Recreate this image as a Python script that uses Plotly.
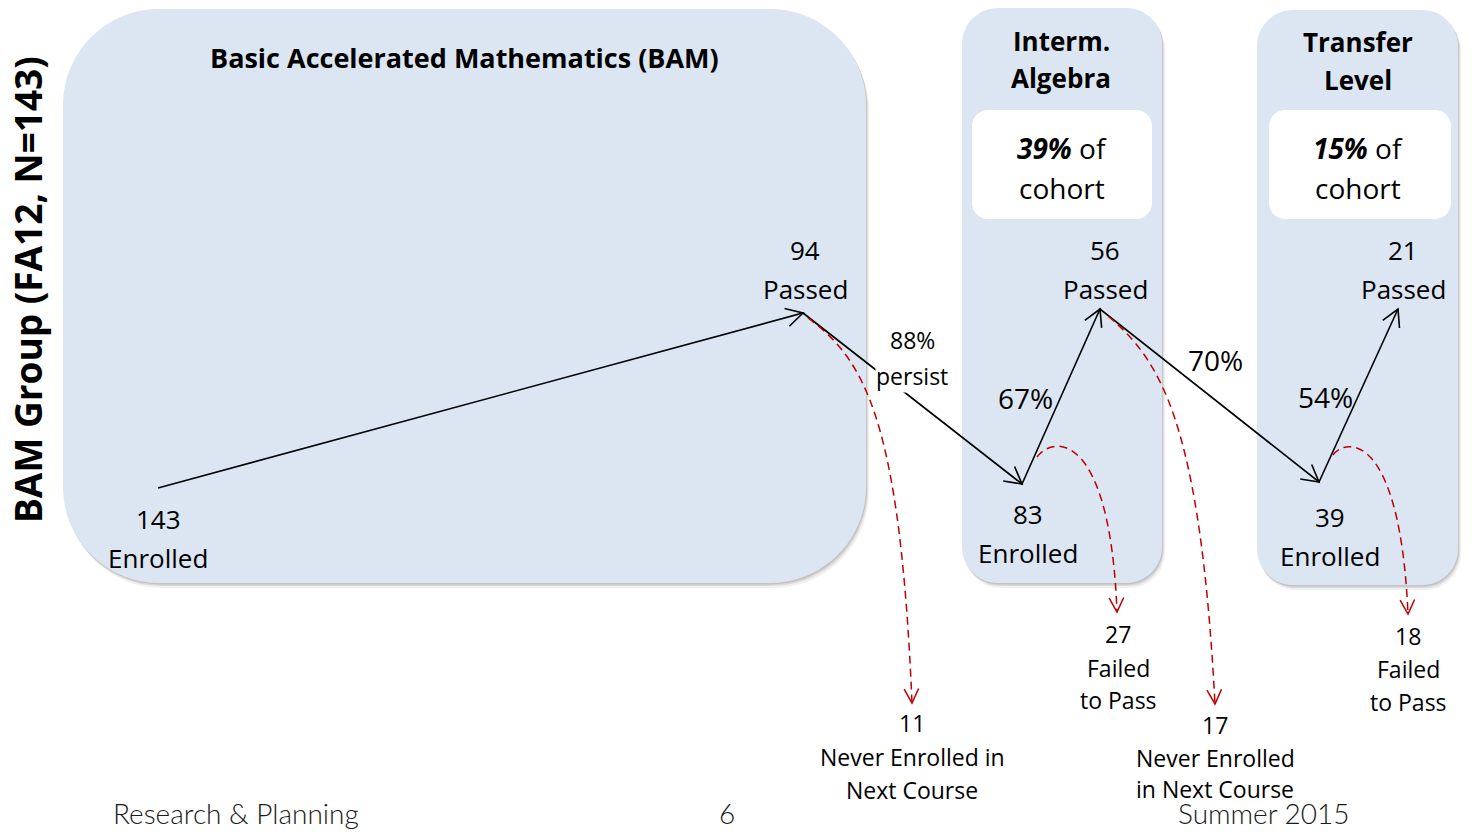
import math
import plotly.graph_objects as go

# ---------------- data ----------------
stage_titles = ["Basic Accelerated Mathematics (BAM)", "Interm.|Algebra", "Transfer|Level"]
enrolled = [143, 83, 39]
passed = [94, 56, 21]
persist_rates = ["88%", "70%"]
pass_rates = ["67%", "54%"]
cohort_share = ["39%", "15%"]
never_enrolled = [11, 17]
never_text = [["Never Enrolled in", "Next Course"], ["Never Enrolled", "in Next Course"]]
failed = [27, 18]
failed_text = ["Failed", "to Pass"]
side_title = "BAM Group (FA12, N=143)"
footer_text = ["Research & Planning", "6", "Summer 2015"]

# ---------------- layout (pixel space of the slide) ----------------
W, H = 1476, 832
FONT = "Open Sans"
BLUE = "#DCE6F2"
RED = "#C00000"

BOXES = [(63, 9, 866, 583, 96), (962, 8, 1162, 583, 36), (1257, 10, 1458, 585, 36)]
INNER = [(972, 110, 1152, 219, 16), (1269, 110, 1451, 219, 16)]
ENR_PT = [(158, 488), (1022, 484), (1319, 482)]
PAS_PT = [(803, 313), (1100, 309), (1398, 309)]
ENR_LBL = [(158, 519, 558), (1028, 514, 553), (1330, 517, 556)]
PAS_LBL = [(805, 250, 289), (1105, 250, 289), (1403, 250, 289)]
TITLE_POS = [(464, [57]), (1061, [41, 78]), (1358, [42, 80])]
COHORT_POS = [(1062, 148, 188), (1358, 148, 188)]
PERSIST_POS = [(912, 340, 376), (1215, 360, None)]
PASSRATE_POS = [(1025, 398), (1325, 397)]
NEVER_CURVES = [((808, 318), (865, 360), (900, 420), (912, 703)),
                ((1108, 316), (1160, 360), (1200, 420), (1215, 704))]
FAIL_CURVES = [((1037, 457), (1053, 435), (1110, 430), (1117, 612)),
               ((1333, 455), (1346, 437), (1400, 432), (1408, 614))]
NEVER_LBL = [(912, [723, 757, 790]), (1215, [725, 758, 789])]
FAIL_LBL = [(1118, [634, 668, 700]), (1408, [636, 669, 702])]
FOOTER_POS = [(236, 813), (727, 813), (1264, 813)]

fig = go.Figure()
shapes, annotations = [], []


def rrect(x0, y0, x1, y1, r):
    k = 0.5523 * r
    return (f"M {x0 + r},{y0} L {x1 - r},{y0} C {x1 - r + k},{y0} {x1},{y0 + r - k} {x1},{y0 + r} "
            f"L {x1},{y1 - r} C {x1},{y1 - r + k} {x1 - r + k},{y1} {x1 - r},{y1} "
            f"L {x0 + r},{y1} C {x0 + r - k},{y1} {x0},{y1 - r + k} {x0},{y1 - r} "
            f"L {x0},{y0 + r} C {x0},{y0 + r - k} {x0 + r - k},{y0} {x0 + r},{y0} Z")


def vhead(tip, frm, L=19, ang=29):
    dx, dy = tip[0] - frm[0], tip[1] - frm[1]
    n = math.hypot(dx, dy)
    bx, by = -dx / n, -dy / n
    pts = []
    for s in (1, -1):
        a = math.radians(ang * s)
        rx = bx * math.cos(a) - by * math.sin(a)
        ry = bx * math.sin(a) + by * math.cos(a)
        pts.append((tip[0] + L * rx, tip[1] + L * ry))
    return f"M {pts[0][0]},{pts[0][1]} L {tip[0]},{tip[1]} L {pts[1][0]},{pts[1][1]}"


def text(x, y, s, size, bold=False, color="black", bg=None, family=FONT, angle=0, weight=None):
    font = dict(family=family, size=size, color=color)
    if weight:
        font["weight"] = weight
    annotations.append(dict(
        x=x, y=y, xref="x", yref="y", text=f"<b>{s}</b>" if bold else s,
        showarrow=False, xanchor="center", yanchor="middle", textangle=angle,
        font=font, bgcolor=bg if bg else "rgba(0,0,0,0)", borderpad=0))


# shadows + boxes
for (x0, y0, x1, y1, r) in BOXES:
    for off, a in ((5, 0.06), (3, 0.09), (1.5, 0.10)):
        shapes.append(dict(type="path", path=rrect(x0 + off * 0.6, y0 + off, x1 + off * 0.6, y1 + off, r),
                           fillcolor=f"rgba(0,0,0,{a})", line=dict(width=0), layer="below"))
for (x0, y0, x1, y1, r) in BOXES:
    shapes.append(dict(type="path", path=rrect(x0, y0, x1, y1, r), fillcolor=BLUE,
                       line=dict(width=0), layer="below"))
for (x0, y0, x1, y1, r) in INNER:
    shapes.append(dict(type="path", path=rrect(x0, y0, x1, y1, r), fillcolor="white",
                       line=dict(width=0), layer="below"))

# main black flow: enrolled -> passed -> enrolled ...
flow = []
for e, p in zip(ENR_PT, PAS_PT):
    flow += [e, p]
fx = [pt[0] for pt in flow]
fy = [pt[1] for pt in flow]
fig.add_trace(go.Scatter(x=fx, y=fy, mode="lines", line=dict(color="black", width=1.6),
                         hoverinfo="skip", showlegend=False))
for i in range(1, len(flow)):
    shapes.append(dict(type="path", path=vhead(flow[i], flow[i - 1]),
                       line=dict(color="black", width=1.6), layer="above"))

# red dashed drop-out curves
for curve in NEVER_CURVES + FAIL_CURVES:
    p0, p1, p2, p3 = curve
    shapes.append(dict(type="path",
                       path=f"M {p0[0]},{p0[1]} C {p1[0]},{p1[1]} {p2[0]},{p2[1]} {p3[0]},{p3[1]}",
                       line=dict(color=RED, width=1.5, dash="8px,5px"), layer="above"))
    shapes.append(dict(type="path", path=vhead(p3, p2, L=16, ang=27),
                       line=dict(color=RED, width=1.5), layer="above"))

# stage titles
for (x, ys), t in zip(TITLE_POS, stage_titles):
    for y, line in zip(ys, t.split("|")):
        text(x, y, line, 27 if len(ys) == 1 else 26, bold=True)

# cohort share boxes
for (x, y1, y2), c in zip(COHORT_POS, cohort_share):
    text(x, y1, f"<b><i>{c}</i></b> of", 28)
    text(x, y2, "cohort", 28)

# node labels
for (x, y1, y2), v in zip(ENR_LBL, enrolled):
    text(x, y1, str(v), 26)
    text(x, y2, "Enrolled", 26)
for (x, y1, y2), v in zip(PAS_LBL, passed):
    text(x, y1, str(v), 26)
    text(x, y2, "Passed", 26)

# rates
text(PERSIST_POS[0][0], PERSIST_POS[0][1], persist_rates[0], 23)
text(PERSIST_POS[0][0], PERSIST_POS[0][2], "persist", 23, bg="white")
text(PERSIST_POS[1][0], PERSIST_POS[1][1], persist_rates[1], 28)
for (x, y), r in zip(PASSRATE_POS, pass_rates):
    text(x, y, r, 28)

# drop-out labels
for (x, ys), v, lines in zip(NEVER_LBL, never_enrolled, never_text):
    for y, s in zip(ys, [str(v)] + lines):
        text(x, y, s, 23)
for (x, ys), v in zip(FAIL_LBL, failed):
    for y, s in zip(ys, [str(v)] + failed_text):
        text(x, y, s, 23)

# side title
text(27, 290, side_title, 37, bold=True, angle=-90)

# footer
for (x, y), s in zip(FOOTER_POS, footer_text):
    text(x, y, s, 28, family="Lato", color="#1a1a1a", weight=300)

fig.update_layout(
    width=W, height=H, autosize=False,
    margin=dict(l=0, r=0, t=0, b=0),
    paper_bgcolor="white", plot_bgcolor="white",
    xaxis=dict(range=[0, W], visible=False, fixedrange=True),
    yaxis=dict(range=[H, 0], visible=False, fixedrange=True),
    shapes=shapes, annotations=annotations, showlegend=False,
)
fig.write_html("out.html", config={"displayModeBar": False},
               post_script="document.body.style.margin='0';")
